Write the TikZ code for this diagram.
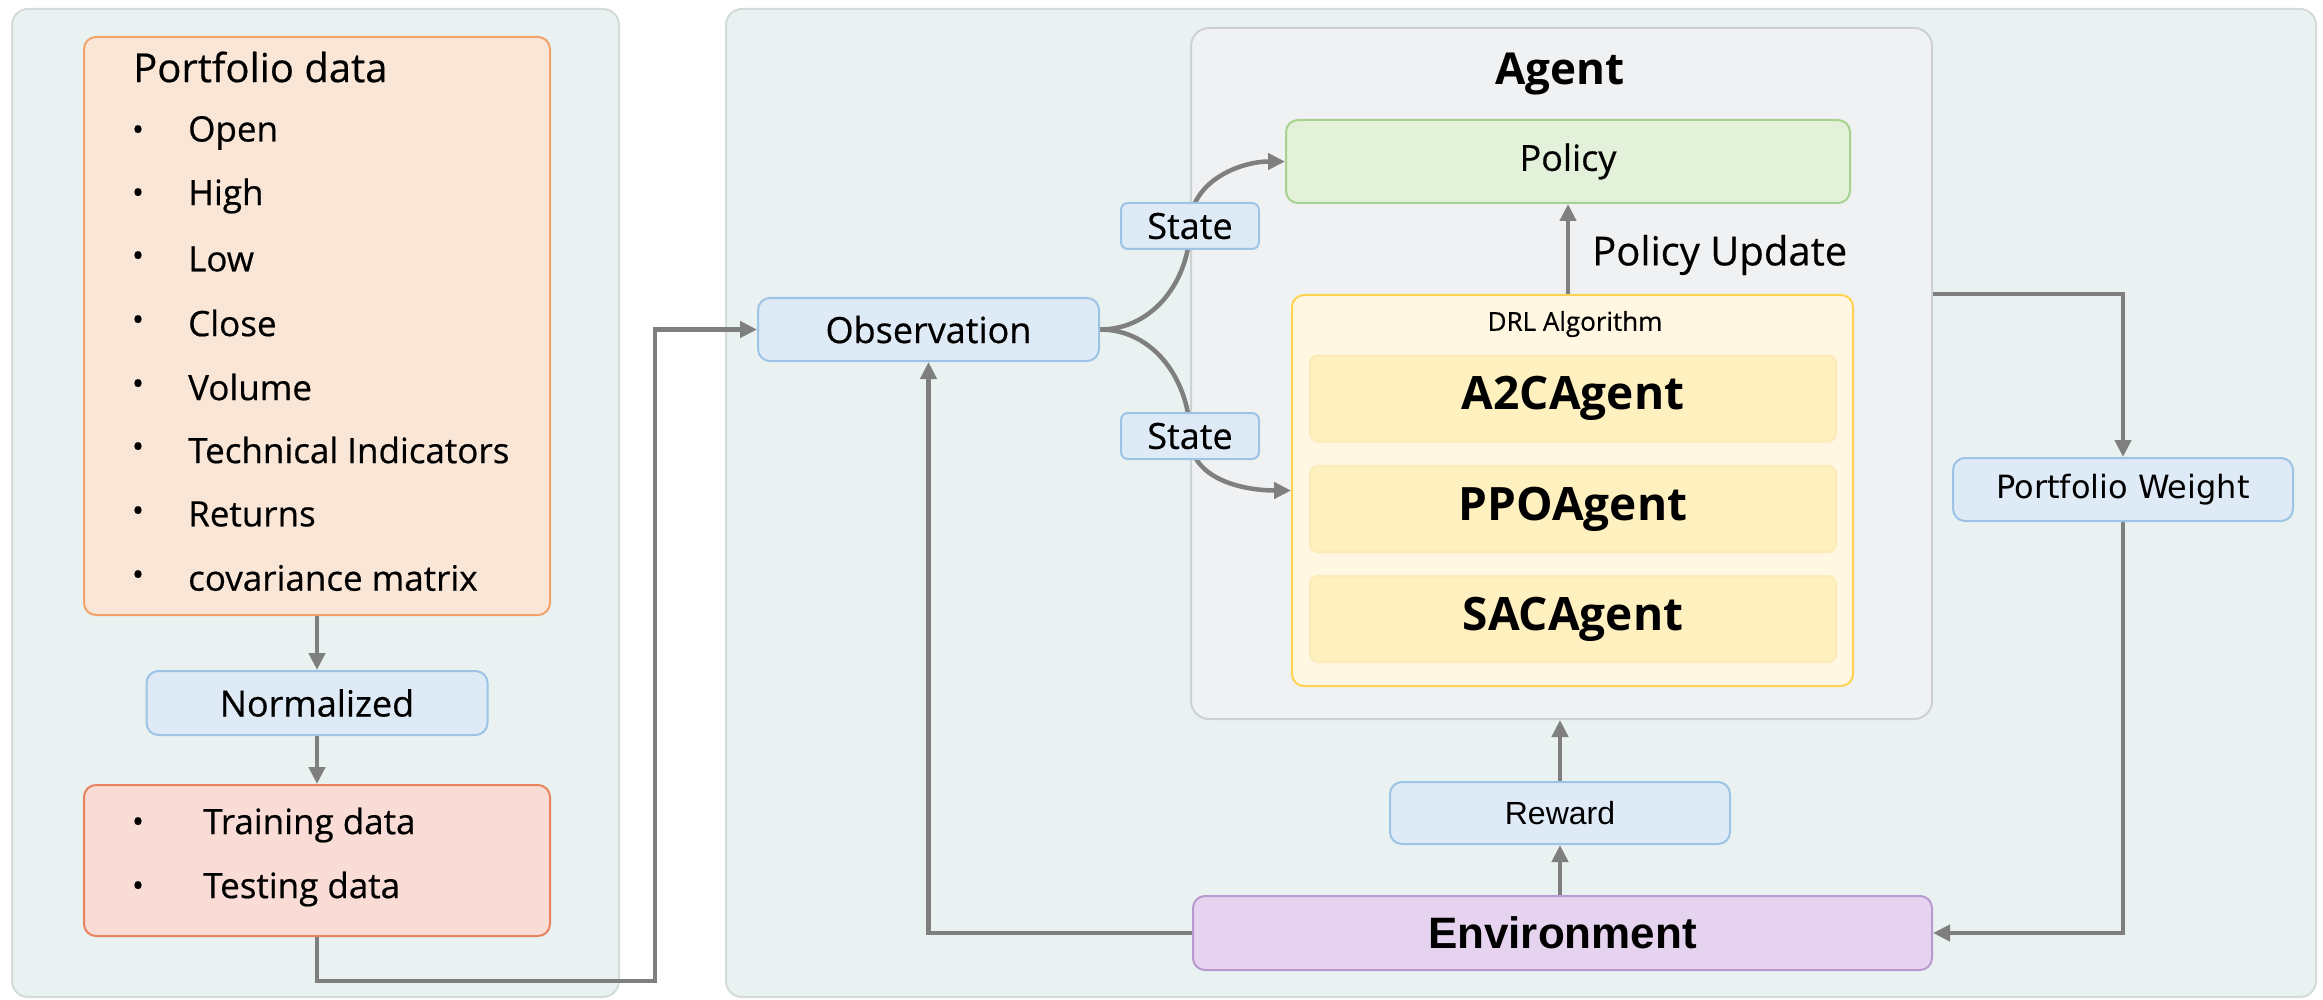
\documentclass[tikz,border=0pt]{standalone}
\usepackage{fontspec}
\setmainfont{Open Sans}[UprightFeatures={FakeBold=0.5}]
\newfontfamily\arialf{Liberation Sans}
\newfontfamily\dejaf{DejaVu Sans}
\usetikzlibrary{arrows.meta}

\definecolor{panelfill}{HTML}{E9F2F1}
\definecolor{paneldraw}{HTML}{D3DCDB}
\definecolor{agentfill}{HTML}{F0F1F3}
\definecolor{agentdraw}{HTML}{CDD1D4}
\definecolor{bluefill}{HTML}{DEEAF6}
\definecolor{bluedraw}{HTML}{9DC3E6}
\definecolor{peachfill}{HTML}{FAE6D7}
\definecolor{peachdraw}{HTML}{F2A36B}
\definecolor{salmonfill}{HTML}{F9DCD5}
\definecolor{salmondraw}{HTML}{E9825E}
\definecolor{greenfill}{HTML}{E3F0DA}
\definecolor{greendraw}{HTML}{A9D18E}
\definecolor{drlfill}{HTML}{FFF7E1}
\definecolor{drldraw}{HTML}{FFD34F}
\definecolor{subfill}{HTML}{FFF0BF}
\definecolor{subdraw}{HTML}{FCEBB8}
\definecolor{purplefill}{HTML}{E6D3F0}
\definecolor{purpledraw}{HTML}{B89AD0}
\definecolor{linkgray}{HTML}{7F7F7F}

\pgfdeclarelayer{bg}
\pgfdeclarelayer{edges}
\pgfsetlayers{bg,edges,main}

\tikzset{
  box/.style={rectangle, rounded corners=12pt, line width=2pt, inner sep=0pt, anchor=center},
  panel/.style={box, rounded corners=16pt, fill=panelfill, draw=paneldraw},
  bluebox/.style={box, fill=bluefill, draw=bluedraw, font=\fontsize{36}{40}\selectfont},
  subbox/.style={box, rounded corners=8pt, fill=subfill, draw=subdraw,
    minimum width=526pt, minimum height=86pt, font=\bfseries\fontsize{46}{52}\selectfont},
  link/.style={draw=linkgray, line width=4.5pt},
  arr/.style={link, -{Triangle[length=17pt, width=16pt]}},
  item/.style={anchor=west, inner sep=0pt, font=\fontsize{35}{40}\selectfont},
  dot/.style={anchor=center, inner sep=0pt, font=\fontsize{32}{36}\selectfont},
}

\begin{document}
\begin{tikzpicture}[x=1pt, y=-1pt]
\useasboundingbox (0,0) rectangle (2323,1000);

% containers
\begin{pgfonlayer}{bg}
  \node[panel, minimum width=607pt, minimum height=988pt] (leftpanel) at (315.5,503) {};
  \node[panel, minimum width=1590pt, minimum height=988pt] (rightpanel) at (1521,503) {};
  \node[box, rounded corners=18pt, fill=agentfill, draw=agentdraw,
        minimum width=741pt, minimum height=691pt] (agent) at (1561.5,373.5) {};
  \node[box, fill=drlfill, draw=drldraw, minimum width=561pt, minimum height=391pt] (drl) at (1572.5,490.5) {};
  \node[box, fill=peachfill, draw=peachdraw, minimum width=466pt, minimum height=578pt] (pdata) at (317,326) {};
  \node[box, fill=salmonfill, draw=salmondraw, minimum width=466pt, minimum height=151pt] (split) at (317,860.5) {};
\end{pgfonlayer}

% data preparation column
\node[item, font=\fontsize{40}{46}\selectfont] (pdtitle) at (133,67) {Portfolio data};
\foreach \y/\t [count=\i] in {133/Open, 196/High, 259/Low, 323/Close, 387/Volume,
    450/Technical Indicators, 514/Returns, 578/covariance matrix} {
  \node[dot] (pdot\i) at (138,\y) {•};
  \node[item] (pitem\i) at (188,\y) {\t};
}
\node[bluebox, minimum width=341pt, minimum height=64pt] (norm) at (317,703) {Normalized};
\node[dot] (sdot1) at (138,825) {•};
\node[item] (train) at (203,825) {Training data};
\node[dot] (sdot2) at (138,889) {•};
\node[item] (test) at (203,889) {Testing data};

% agent and environment
\node[anchor=center, font=\bfseries\fontsize{44}{50}\selectfont] (agenttitle) at (1560,74) {Agent};
\node[box, fill=greenfill, draw=greendraw, minimum width=564pt, minimum height=83pt,
      font=\fontsize{36}{40}\selectfont] (policy) at (1568,161.5) {Policy};
\node[anchor=west, inner sep=0pt, font=\fontsize{40}{46}\selectfont] (pupdate) at (1592,255) {Policy Update};
\node[anchor=center, inner sep=0pt, font=\fontsize{26}{30}\selectfont] (drltitle) at (1575,324) {DRL Algorithm};
\node[subbox] (a2c) at (1573,398.5) {A2CAgent};
\node[subbox] (ppo) at (1573,509) {PPOAgent};
\node[subbox] (sac) at (1573,619) {SACAgent};

\node[bluebox, minimum width=341pt, minimum height=63pt] (obs) at (928.5,329.5) {Observation};
\node[bluebox, rounded corners=7pt, minimum width=138pt, minimum height=46pt,
      font=\fontsize{36}{40}\selectfont] (state1) at (1190,226) {State};
\node[bluebox, rounded corners=7pt, minimum width=138pt, minimum height=46pt,
      font=\fontsize{36}{40}\selectfont] (state2) at (1190,436) {State};
\node[bluebox, minimum width=340pt, minimum height=63pt,
      font=\dejaf\fontsize{32}{36}\selectfont] (pw) at (2123,489.5) {Portfolio Weight};
\node[bluebox, minimum width=340pt, minimum height=62pt,
      font=\arialf\fontsize{32}{36}\selectfont] (reward) at (1560,813) {Reward};
\node[box, fill=purplefill, draw=purpledraw, minimum width=739pt, minimum height=74pt,
      font=\arialf\bfseries\fontsize{44}{50}\selectfont] (env) at (1562.5,933) {Environment};

\coordinate (turn) at (655,981);

% connectors
\begin{pgfonlayer}{edges}
  \draw[arr] (pdata.south) -- (norm.north);
  \draw[arr] (norm.south) -- (split.north);
  \draw[arr] (split.south) |- (turn) |- (obs.west);
  \draw[arr] (obs.east) to[out=0, in=-90] (state1.center) to[out=90, in=180] (policy.west);
  \draw[arr] (obs.east) to[out=0, in=90] (state2.center) to[out=-90, in=180] (drl.west);
  \draw[arr] (drl.north -| policy.south) -- (policy.south);
  \draw[arr] (agent.east |- drl.north) -| (pw.north);
  \draw[arr] (pw.south) |- (env.east);
  \draw[arr] (env.north -| reward.south) -- (reward.south);
  \draw[arr] (reward.north) -- (agent.south -| reward.north);
  \draw[arr] (env.west) -| (obs.south);
\end{pgfonlayer}
\end{tikzpicture}
\end{document}
